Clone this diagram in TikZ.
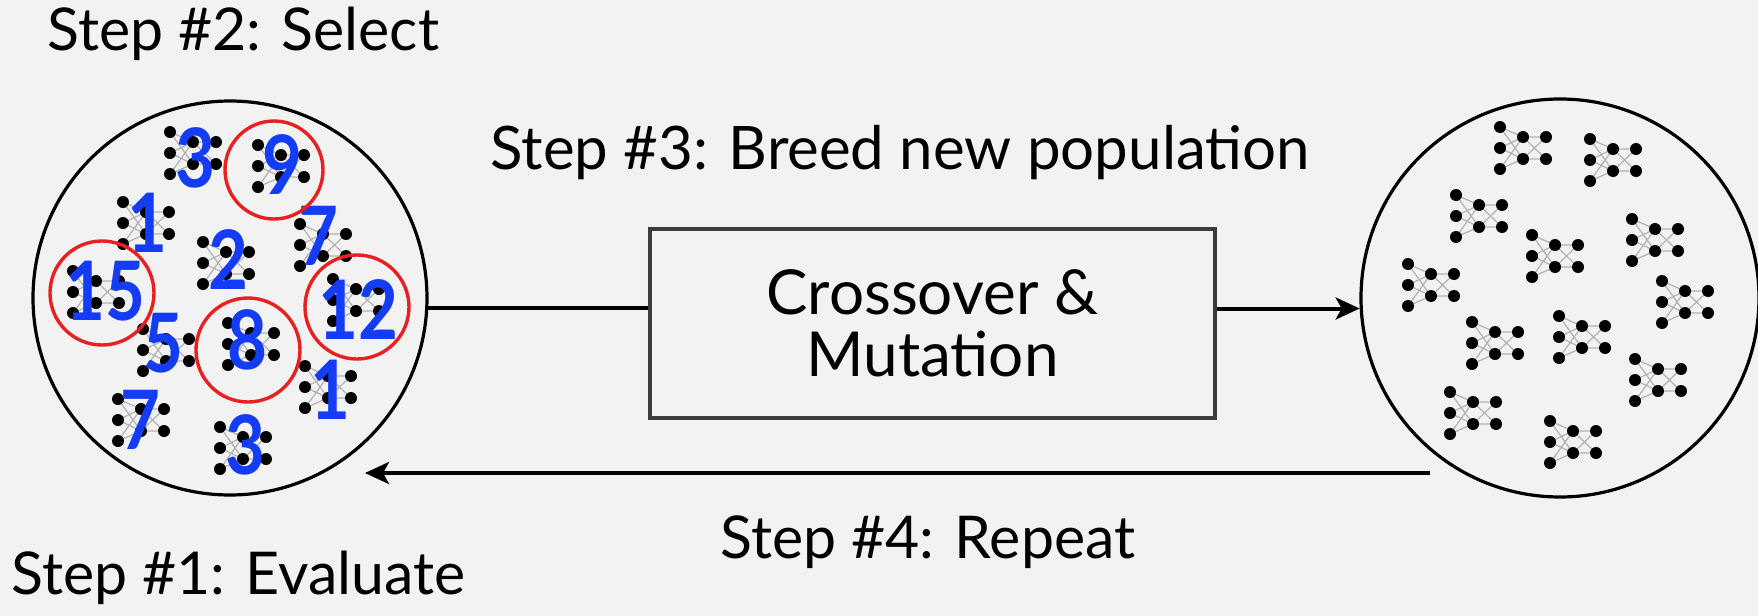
\documentclass[tikz,border=0pt]{standalone}
\usepackage{fontspec}
\setmainfont{Lato}
\newfontfamily\scorefont{Lato}[FakeStretch=0.84]
\usetikzlibrary{arrows.meta}
\definecolor{bg}{RGB}{242,242,242}
\definecolor{numblue}{RGB}{20,60,245}
\definecolor{selred}{RGB}{232,32,32}
\definecolor{boxgray}{RGB}{60,60,60}
\tikzset{
  netline/.style={gray!60, line width=0.6pt},
  net/.pic={
    \foreach \a in {-21,0,21}
      \foreach \b in {-11,11}
        \draw[netline] (0,\a) -- (23,\b);
    \draw[netline] (23,-11) -- (46,-11) (23,11) -- (46,11)
                   (23,-11) -- (46,11) (23,11) -- (46,-11);
    \foreach \p in {(0,-21),(0,0),(0,21),(23,-11),(23,11),(46,-11),(46,11)}
      \fill[black] \p circle (6);
  },
  pop/.style={circle, draw=black, line width=1.6pt, inner sep=0pt},
  fitness/.style={text=numblue, inner sep=0pt,
                  font=\scorefont\bfseries\fontsize{41}{41}\selectfont},
  chosen/.style={circle, draw=selred, line width=1.7pt, inner sep=0pt},
  steplabel/.style={anchor=base west, inner sep=0pt, font=\fontsize{29.5}{30}\selectfont},
  opbox/.style={rectangle, draw=boxgray, line width=2pt, minimum width=282.5pt,
                minimum height=94.5pt, align=center,
                font=\fontsize{31}{31}\selectfont},
  flow/.style={line width=2pt, black},
  flowarrow/.style={flow, -{Stealth[length=12pt, width=11pt, inset=3pt]}},
}
\begin{document}
\begin{tikzpicture}[x=0.5pt, y=-0.5pt]
\fill[bg] (0,0) rectangle (1758,616);
\useasboundingbox (0,0) rectangle (1758,616);

% the two populations
\node[pop, minimum size=197pt] (lc) at (230,298) {};
\node[pop, minimum size=199pt] (rc) at (1560,298) {};

% evaluated population: networks
\pic (a1)  at (170,153) {net};
\pic (a2)  at (258,166) {net};
\pic (a3)  at (123,223) {net};
\pic (a4)  at (203,263) {net};
\pic (a5)  at (300,245) {net};
\pic (a6)  at (73,292)  {net};
\pic (a7)  at (333,300) {net};
\pic (a8)  at (143,350) {net};
\pic (a9)  at (228,344) {net};
\pic (a10) at (305,387) {net};
\pic (a11) at (118,420) {net};
\pic (a12) at (220,448) {net};

% fitness scores
\node[fitness] (f1)  at (195,158) {3};
\node[fitness] (f2)  at (282,165) {9};
\node[fitness] (f3)  at (147,223) {1};
\node[fitness] (f4)  at (228,260) {2};
\node[fitness] (f5)  at (318,236) {7};
\node[fitness] (f6)  at (105,291) {15};
\node[fitness] (f7)  at (358,310) {12};
\node[fitness] (f8)  at (163,343) {5};
\node[fitness] (f9)  at (247,340) {8};
\node[fitness] (f10) at (330,390) {1};
\node[fitness] (f11) at (140,420) {7};
\node[fitness] (f12) at (245,445) {3};

% selected individuals
\node[chosen, minimum size=49pt] (s1) at (274,170) {};
\node[chosen, minimum size=52pt] (s2) at (102,293) {};
\node[chosen, minimum size=52pt] (s3) at (357,307) {};
\node[chosen, minimum size=52pt] (s4) at (248,350) {};

% new population: networks
\pic (b1)  at (1500,148) {net};
\pic (b2)  at (1590,160) {net};
\pic (b3)  at (1456,216) {net};
\pic (b4)  at (1632,240) {net};
\pic (b5)  at (1532,256) {net};
\pic (b6)  at (1408,285) {net};
\pic (b7)  at (1662,302) {net};
\pic (b8)  at (1472,343) {net};
\pic (b9)  at (1559,337) {net};
\pic (b10) at (1635,380) {net};
\pic (b11) at (1450,413) {net};
\pic (b12) at (1550,442) {net};

% operator box
\node[opbox] (op) at (932.5,323.5) {Crossover \&\\Mutation};

% connectors
\draw[flow] (lc.-3.5) -- (op.west |- lc.-3.5);
\draw[flowarrow] (op.east |- rc.183.5) -- (rc.183.5);
\coordinate (repfrom) at (1430,473);
\coordinate (repto) at (365,473);
\draw[flowarrow] (repfrom) -- (repto);

% step labels
\node[steplabel] (l2) at (47,50) {Step \#2: Select};
\node[steplabel, font=\fontsize{30}{30}\selectfont] (l3) at (490,169) {Step \#3: Breed new population};
\node[steplabel] (l4) at (720,558) {Step \#4: Repeat};
\node[steplabel] (l1) at (11,594) {Step \#1: Evaluate};
\end{tikzpicture}
\end{document}
